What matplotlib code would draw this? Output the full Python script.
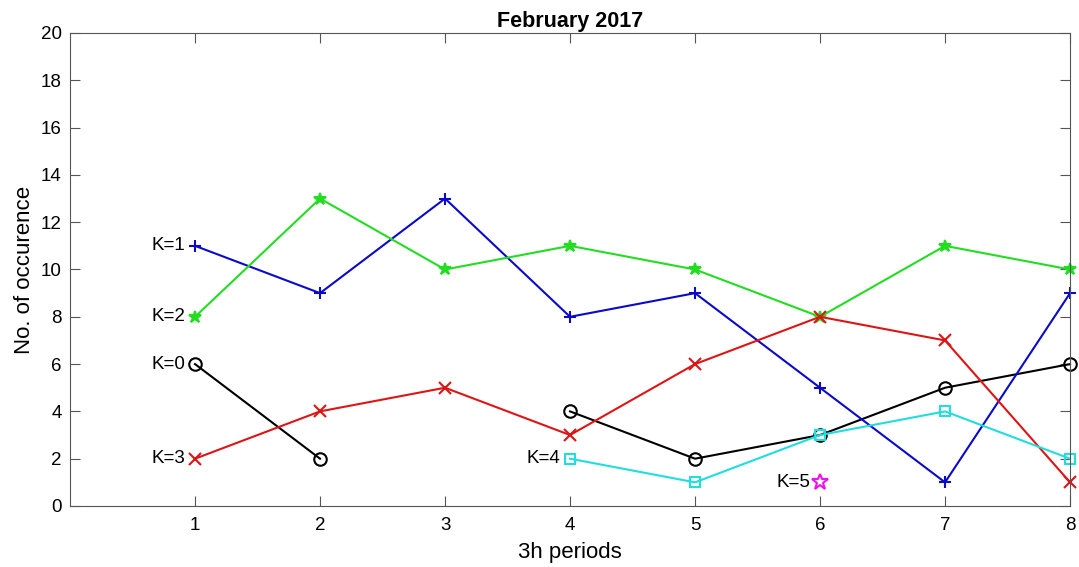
import matplotlib
matplotlib.use("Agg")
import matplotlib.pyplot as plt
import numpy as np

plt.rcParams["font.family"] = ["Liberation Sans", "DejaVu Sans"]

periods = np.arange(1, 9)
nan = np.nan

k0 = [6, 2, nan, 4, 2, 3, 5, 6]
k1 = [11, 9, 13, 8, 9, 5, 1, 9]
k2 = [8, 13, 10, 11, 10, 8, 11, 10]
k3 = [2, 4, 5, 3, 6, 8, 7, 1]
k4 = [nan, nan, nan, 2, 1, 3, 4, 2]
k5 = [nan, nan, nan, nan, nan, 1, nan, nan]

series = [
    ("K=0", k0, "black", "o", 9, "none"),
    ("K=1", k1, "#0a0ac8", "+", 9, None),
    ("K=2", k2, "#22dd22", "*", 9, None),
    ("K=3", k3, "#dd1515", "x", 8, None),
    ("K=4", k4, "#22dddd", "s", 7, "none"),
    ("K=5", k5, "#ee11ee", "*", 12, "none"),
]

fig = plt.figure(figsize=(10.79, 5.67), dpi=100)
ax = fig.add_axes([0.0649, 0.1076, 0.9268, 0.8342])

for name, vals, color, marker, ms, mfc in series:
    vals = np.asarray(vals, dtype=float)
    kw = dict(color=color, marker=marker, markersize=ms, linewidth=1.5,
              markeredgewidth=1.5, clip_on=False)
    if mfc is not None:
        kw["markerfacecolor"] = mfc
    ax.plot(periods, vals, **kw)
    # label the series at its first point
    i = np.flatnonzero(~np.isnan(vals))[0]
    ax.text(periods[i] - 0.08, vals[i], name, ha="right", va="center",
            fontsize=13.5)

ax.set_xlim(0, 8)
ax.set_ylim(0, 20)
ax.set_xticks(periods)
ax.set_yticks(np.arange(0, 21, 2))
ax.tick_params(direction="in", top=True, right=True, labelsize=13.5,
               length=7, color="#555555")
ax.tick_params(axis="x", pad=8)
ax.tick_params(axis="y", pad=6)
for s in ax.spines.values():
    s.set_color("#555555")
ax.set_xlabel("3h periods", fontsize=16, labelpad=6)
ax.set_ylabel("No. of occurence", fontsize=16, labelpad=4)
ax.set_title("February 2017", fontsize=15.5, fontweight="bold", pad=4)

fig.savefig("out.png", dpi=100)
